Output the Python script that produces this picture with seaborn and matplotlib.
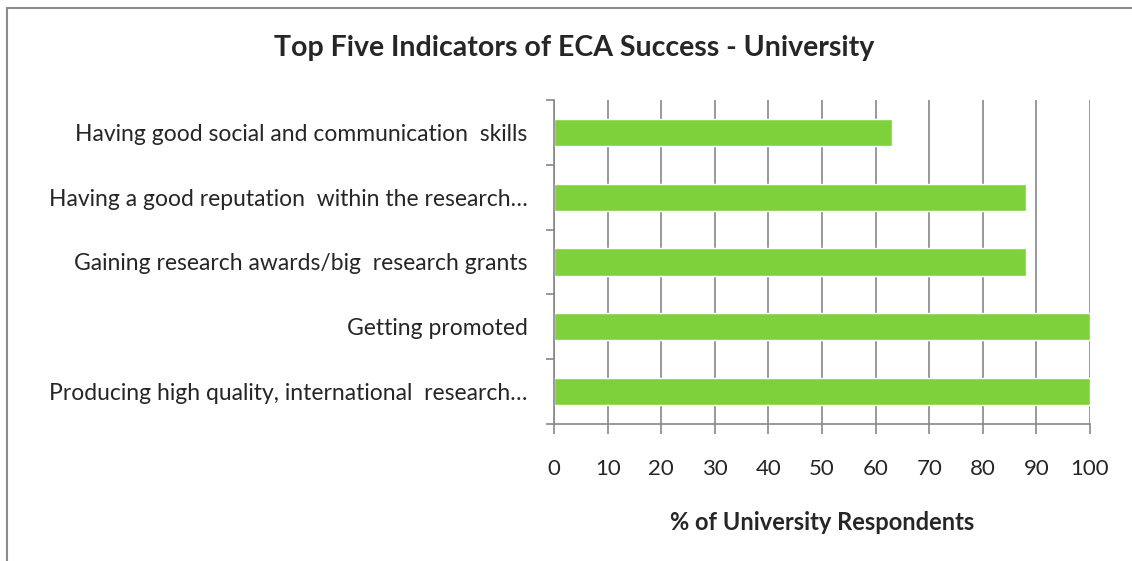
import numpy as np
import pandas as pd
import seaborn as sns
import matplotlib.pyplot as plt
from matplotlib.patches import Rectangle

categories = [
    "Having good social and communication  skills",
    "Having a good reputation  within the research\u2026",
    "Gaining research awards/big  research grants",
    "Getting promoted",
    "Producing high quality, international  research\u2026",
]
percent = [63, 88, 88, 100, 100]

title = "Top Five Indicators of ECA Success - University"
xlabel = "% of University Respondents"
bar_color = "#7FD13B"
grid_color = "#878787"

sns.set_style("white")
plt.rcParams["font.family"] = ["Lato", "DejaVu Sans"]

df = pd.DataFrame({"indicator": categories, "pct": percent})

fig = plt.figure(figsize=(11.32, 5.61), dpi=100)
W, H = 1132, 561
ax = fig.add_axes([554 / W, 1 - 424 / H, (1090 - 554) / W, (424 - 100) / H])

sns.barplot(data=df, x="pct", y="indicator", orient="h", color=bar_color,
            width=0.42, saturation=1, ax=ax)

ax.set_xlim(0, 100)
ax.set_ylim(len(categories) - 0.5, -0.5)
ax.set_xticks(np.arange(0, 101, 10))
ax.xaxis.grid(True, color=grid_color, linewidth=1.2)
ax.set_axisbelow(True)

for s in ["top", "right"]:
    ax.spines[s].set_visible(False)
for s in ["left", "bottom"]:
    ax.spines[s].set_color(grid_color)
    ax.spines[s].set_linewidth(1.2)

ax.tick_params(axis="x", direction="out", length=7, width=1.2, color=grid_color,
               labelsize=16, pad=18, bottom=True)
ax.tick_params(axis="y", which="major", length=0, labelsize=16.5, pad=19, left=True)
ax.set_yticks(np.arange(-0.5, len(categories), 1), minor=True)
ax.tick_params(axis="y", which="minor", direction="out", length=6, width=1.2,
               color=grid_color, left=True)

ax.set_ylabel("")
ax.set_xlabel(xlabel, fontsize=17, fontweight="bold", labelpad=23)
fig.text(574 / W, 1 - 48 / H, title, ha="center", va="center",
         fontsize=20.5, fontweight="bold")

fig.patches.append(Rectangle((7 / W, -0.1), 1.2, 1 - 8 / H + 0.1,
                             transform=fig.transFigure, fill=False,
                             edgecolor="#8c8c8c", linewidth=1.5))

fig.savefig("out.png", dpi=100)
